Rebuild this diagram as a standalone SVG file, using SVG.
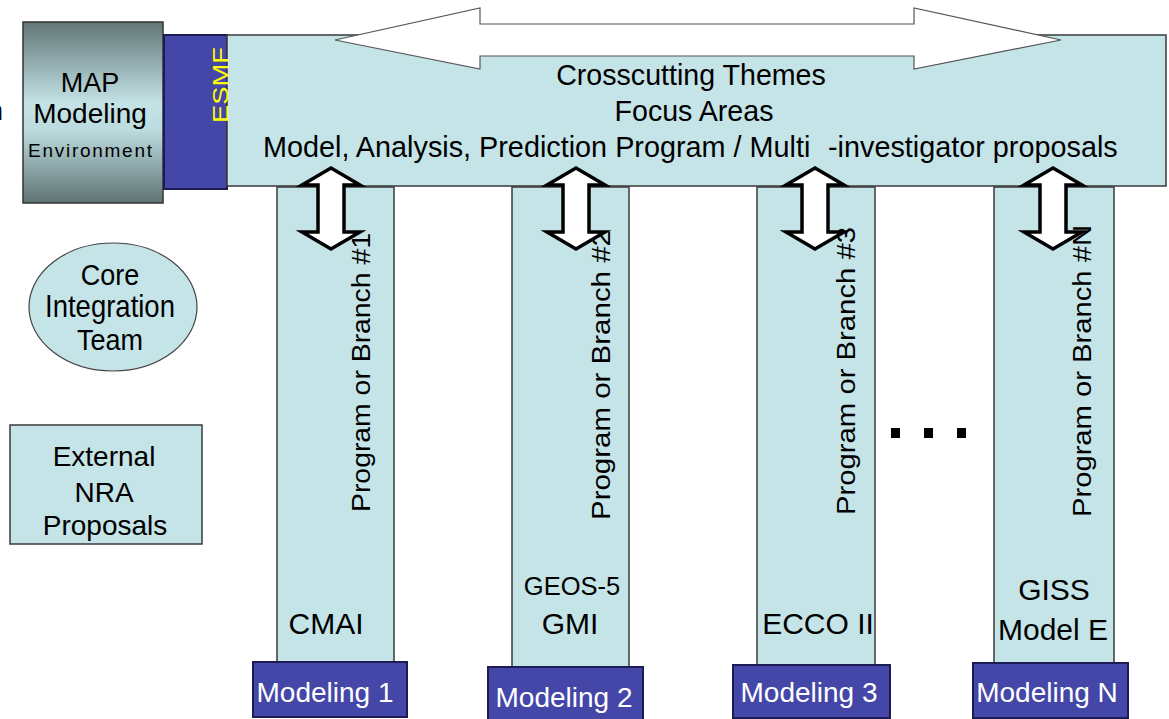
<svg xmlns="http://www.w3.org/2000/svg" width="1169" height="719" viewBox="0 0 1169 719">
<style>
text{font-family:"Liberation Sans",Arial,sans-serif;fill:#000}
.lb{fill:#c5e4e8;stroke:#3a3a3a;stroke-width:1.5}
.ind{fill:#4447a8;stroke:#1c1c55;stroke-width:2}
.w{fill:#fff}
.m{text-anchor:middle}
.va{fill:#fff;stroke:#000;stroke-width:3.5;stroke-linejoin:miter}
.big{fill:#fff;stroke:#555;stroke-width:1.2}
</style>
<defs>
<linearGradient id="mapg" x1="0" y1="0" x2="0" y2="1">
<stop offset="0" stop-color="#627676"/>
<stop offset="0.45" stop-color="#c4e3e6"/>
<stop offset="0.6" stop-color="#bcdbde"/>
<stop offset="1" stop-color="#5f7373"/>
</linearGradient>
</defs>
<rect width="1169" height="719" fill="#fff"/>
<text x="3" y="120" font-size="27" text-anchor="end">n</text>

<g id="pillar1"><rect class="lb" x="277" y="187" width="117" height="475"/>
<text transform="translate(370,512) rotate(-90)" font-size="25" textLength="279" lengthAdjust="spacingAndGlyphs">Program or Branch #1</text>
<text x="326" y="634" font-size="30" class="m">CMAI</text></g>
<g id="pillar2"><rect class="lb" x="512" y="187" width="117" height="480"/>
<text transform="translate(610,520) rotate(-90)" font-size="25" textLength="290" lengthAdjust="spacingAndGlyphs">Program or Branch #2</text>
<text x="572" y="595" font-size="25.5" class="m">GEOS-5</text>
<text x="570" y="634" font-size="30" class="m">GMI</text></g>
<g id="pillar3"><rect class="lb" x="757" y="187" width="118" height="478"/>
<text transform="translate(855,515) rotate(-90)" font-size="25" textLength="288" lengthAdjust="spacingAndGlyphs">Program or Branch #3</text>
<text x="818" y="634" font-size="30" class="m">ECCO II</text></g>
<g id="pillarN"><rect class="lb" x="994" y="187" width="120" height="476"/>
<text transform="translate(1091,517) rotate(-90)" font-size="25" textLength="292" lengthAdjust="spacingAndGlyphs">Program or Branch #N</text>
<text x="1054" y="600" font-size="30" class="m">GISS</text>
<text x="1053" y="640" font-size="30" class="m">Model E</text></g>

<g id="map-env"><rect x="23" y="22" width="140" height="181" fill="url(#mapg)" stroke="#333" stroke-width="1.5"/>
<text x="90" y="92" font-size="27" class="m">MAP</text>
<text x="90" y="123" font-size="28" class="m">Modeling</text>
<text x="28" y="157" font-size="19" textLength="124" lengthAdjust="spacing">Environment</text></g>
<g id="esmf"><rect class="ind" x="164" y="35" width="63" height="154"/></g>

<g id="crosscutting"><rect class="lb" x="227" y="35" width="939" height="151"/>
<text x="691" y="85" font-size="28.6" class="m">Crosscutting Themes</text>
<text x="694" y="121" font-size="28.6" class="m">Focus Areas</text>
<text y="157" font-size="28.8"><tspan x="263">Model, Analysis, Prediction Program / Multi</tspan><tspan x="828">-investigator proposals</tspan></text></g>
<text transform="translate(228,85) rotate(-90)" font-size="22" fill="#ffff00" style="fill:#ffff00" text-anchor="middle" textLength="76" lengthAdjust="spacingAndGlyphs">ESMF</text>

<g id="connectors">
<polygon class="big" points="335,40 480,8 480,24 914,24 914,8 1061,40 914,69 914,56 480,56 480,69"/>
<polygon class="va" points="331,168 360,185 344,185 344,232 360,232 331,249 302,232 318,232 318,185 302,185"/>
<polygon class="va" points="576,168 605,185 589,185 589,232 605,232 576,249 547,232 563,232 563,185 547,185"/>
<polygon class="va" points="815,168 844,185 828,185 828,232 844,232 815,249 786,232 802,232 802,185 786,185"/>
<polygon class="va" points="1053,168 1082,185 1066,185 1066,232 1082,232 1053,249 1024,232 1040,232 1040,185 1024,185"/>
</g>

<g id="core-team"><ellipse cx="113" cy="307" rx="84" ry="64" fill="#c5e4e8" stroke="#444" stroke-width="1.2"/>
<text transform="translate(110,285) scale(1,1.12)" font-size="27" class="m">Core</text>
<text transform="translate(110,317) scale(1,1.12)" font-size="27.5" class="m">Integration</text>
<text transform="translate(110,350) scale(1,1.12)" font-size="27" class="m">Team</text></g>

<g id="external-nra"><rect class="lb" x="10" y="425" width="192" height="119"/>
<text x="104" y="466" font-size="28" class="m">External</text>
<text x="104" y="502" font-size="28" class="m">NRA</text>
<text x="105" y="535" font-size="28" class="m">Proposals</text></g>

<g id="dots" fill="#000"><rect x="891" y="428" width="9" height="10"/><rect x="924" y="428" width="9" height="10"/><rect x="957" y="428" width="9" height="10"/></g>

<g id="modeling1"><rect class="ind" x="253" y="662" width="154" height="55"/><text x="325" y="702" font-size="28" class="m w" style="fill:#fff">Modeling 1</text></g>
<g id="modeling2"><rect class="ind" x="488" y="667" width="155" height="56"/><text x="564" y="707" font-size="28" class="m w" style="fill:#fff">Modeling 2</text></g>
<g id="modeling3"><rect class="ind" x="733" y="665" width="157" height="53"/><text x="809" y="702" font-size="28" class="m w" style="fill:#fff">Modeling 3</text></g>
<g id="modelingN"><rect class="ind" x="973" y="663" width="155" height="55"/><text x="1047" y="702" font-size="28" class="m w" style="fill:#fff">Modeling N</text></g>
</svg>
